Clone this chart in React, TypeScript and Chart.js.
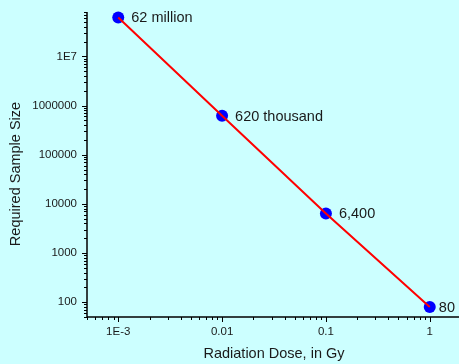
import React, { useEffect, useRef } from "react";
import { Chart, registerables } from "chart.js";

Chart.register(...registerables);

// Dose (Gy) vs. required sample size
const doses = [0.001, 0.01, 0.1, 1];
const sampleSizes = [62000000, 620000, 6400, 80];
const pointLabels = ["62 million", "620 thousand", "6,400", "80"];

// Axis ticks and limits
const xTickValues = [0.001, 0.01, 0.1, 1];
const xTickLabels = ["1E-3", "0.01", "0.1", "1"];
const yTickValues = [100, 1000, 10000, 100000, 1000000, 10000000];
const yTickLabels = ["100", "1000", "10000", "100000", "1000000", "1E7"];
const xRange = [0.0005, 2];
const yRange = [50, 80000000];

const xTitle = "Radiation Dose, in Gy";
const yTitle = "Required Sample Size";

const FONT = "'Liberation Sans', Arial, Helvetica, sans-serif";
const BG = "#CCFFFF";
const TEXT = "#1a1a1a";

// Minor log ticks (2..9 x 10^k) inside [min, max]
function minorLogTicks(min: number, max: number): number[] {
  const out: number[] = [];
  const lo = Math.floor(Math.log10(min));
  const hi = Math.ceil(Math.log10(max));
  for (let k = lo; k <= hi; k++) {
    for (let m = 2; m <= 9; m++) {
      const v = m * Math.pow(10, k);
      if (v >= min * 0.999 && v <= max * 1.001) out.push(v);
    }
  }
  return out;
}

const axesPlugin = {
  id: "axesAndLabels",
  afterDraw(chart: any) {
    const ctx = chart.ctx as CanvasRenderingContext2D;
    const { left, right, top, bottom } = chart.chartArea;
    const xs = chart.scales.x;
    const ys = chart.scales.y;
    ctx.save();

    // axis lines
    ctx.strokeStyle = "#000";
    ctx.lineWidth = 1.5;
    ctx.beginPath();
    ctx.moveTo(left, top);
    ctx.lineTo(left, bottom);
    ctx.lineTo(right + 2, bottom);
    ctx.stroke();

    // tick marks
    ctx.lineWidth = 1;
    ctx.beginPath();
    for (const v of xTickValues) {
      const px = Math.round(xs.getPixelForValue(v)) + 0.5;
      ctx.moveTo(px, bottom);
      ctx.lineTo(px, bottom + 5);
    }
    for (const v of minorLogTicks(xRange[0], xRange[1])) {
      const px = Math.round(xs.getPixelForValue(v)) + 0.5;
      ctx.moveTo(px, bottom);
      ctx.lineTo(px, bottom + 3);
    }
    for (const v of yTickValues) {
      const py = Math.round(ys.getPixelForValue(v)) + 0.5;
      ctx.moveTo(left, py);
      ctx.lineTo(left - 5, py);
    }
    for (const v of minorLogTicks(yRange[0], yRange[1])) {
      const py = Math.round(ys.getPixelForValue(v)) + 0.5;
      ctx.moveTo(left, py);
      ctx.lineTo(left - 3, py);
    }
    ctx.stroke();

    // axis titles
    ctx.fillStyle = TEXT;
    ctx.font = `14.5px ${FONT}`;
    ctx.textAlign = "center";
    ctx.textBaseline = "middle";
    ctx.fillText(xTitle, (left + right) / 2, 354);
    ctx.save();
    ctx.translate(16, 174);
    ctx.rotate(-Math.PI / 2);
    ctx.fillText(yTitle, 0, 0);
    ctx.restore();

    // value labels beside the points
    const meta = chart.getDatasetMeta(1);
    ctx.textAlign = "left";
    ctx.textBaseline = "middle";
    meta.data.forEach((pt: any, i: number) => {
      const text = pointLabels[i];
      const w = ctx.measureText(text).width;
      const x = Math.min(pt.x + 13, chart.width - 4 - w - 2);
      ctx.fillText(text, x, pt.y + 1);
    });

    ctx.restore();
  },
};

export default function App() {
  const canvasRef = useRef<HTMLCanvasElement | null>(null);

  useEffect(() => {
    const canvas = canvasRef.current;
    if (!canvas) return;
    const points = doses.map((d, i) => ({ x: d, y: sampleSizes[i] }));

    const chart = new Chart(canvas, {
      type: "line",
      data: {
        datasets: [
          {
            label: "fit",
            data: points,
            borderColor: "#FF0000",
            borderWidth: 2,
            pointRadius: 0,
            fill: false,
            order: 0,
          },
          {
            label: "points",
            data: points,
            showLine: false,
            pointRadius: 6,
            pointBackgroundColor: "#0000FF",
            pointBorderColor: "#0000FF",
            pointBorderWidth: 0,
            clip: false as any,
            order: 1,
          },
        ],
      },
      options: {
        responsive: false,
        animation: false,
        devicePixelRatio: 1,
        layout: { autoPadding: false, padding: { top: 12, right: 0, bottom: 0, left: 0 } },
        plugins: {
          legend: { display: false },
          tooltip: { enabled: false },
        },
        scales: {
          x: {
            type: "logarithmic",
            min: xRange[0],
            max: xRange[1],
            grid: { display: false, drawTicks: false },
            border: { display: false },
            afterBuildTicks: (scale: any) => {
              scale.ticks = xTickValues.map((v) => ({ value: v }));
            },
            afterFit: (scale: any) => {
              scale.height = 47;
              scale.paddingLeft = 0;
              scale.paddingRight = 0;
            },
            ticks: {
              autoSkip: false,
              maxRotation: 0,
              padding: 8,
              color: TEXT,
              font: { family: FONT, size: 11.5 },
              callback: (_v: any, i: number) => xTickLabels[i],
            },
          },
          y: {
            type: "logarithmic",
            min: yRange[0],
            max: yRange[1],
            grid: { display: false, drawTicks: false },
            border: { display: false },
            afterBuildTicks: (scale: any) => {
              scale.ticks = yTickValues.map((v) => ({ value: v }));
            },
            afterFit: (scale: any) => {
              scale.width = 87;
              scale.paddingTop = 0;
              scale.paddingBottom = 0;
            },
            ticks: {
              autoSkip: false,
              padding: 10,
              color: TEXT,
              font: { family: FONT, size: 11.5 },
              callback: (_v: any, i: number) => yTickLabels[i],
            },
          },
        },
      },
      plugins: [axesPlugin],
    });

    return () => chart.destroy();
  }, []);

  return (
    <div
      style={{
        position: "fixed",
        left: 0,
        top: 0,
        width: 459,
        height: 364,
        overflow: "hidden",
        background: BG,
      }}
    >
      <canvas ref={canvasRef} width={461} height={364} style={{ display: "block" }} />
    </div>
  );
}
